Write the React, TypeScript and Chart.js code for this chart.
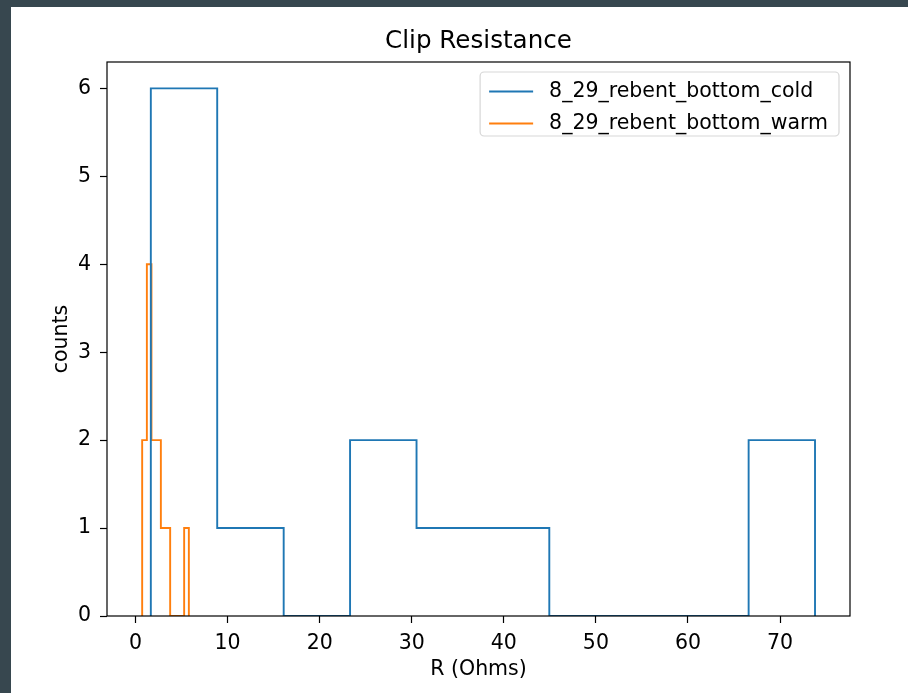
import React, { useEffect, useRef } from 'react';
import { Chart, registerables } from 'chart.js';

Chart.register(...registerables);

const TITLE = 'Clip Resistance';
const X_LABEL = 'R (Ohms)';
const Y_LABEL = 'counts';
const SERIES_NAMES = ['8_29_rebent_bottom_cold', '8_29_rebent_bottom_warm'];
const SERIES_COLORS = ['#1f77b4', '#ff7f0e'];

// histogram bin edges and counts (histtype = step)
const COLD_EDGES = [1.66, 8.87, 16.09, 23.3, 30.52, 37.73, 44.94, 52.16, 59.37, 66.59, 73.8];
const COLD_COUNTS = [6, 1, 0, 2, 1, 1, 0, 0, 0, 2];
const WARM_EDGES = [0.72, 1.23, 1.73, 2.24, 2.75, 3.26, 3.76, 4.27, 4.78, 5.28, 5.79];
const WARM_COUNTS = [2, 4, 2, 2, 1, 1, 0, 0, 0, 1];

const X_TICKS = [0, 10, 20, 30, 40, 50, 60, 70];
const Y_TICKS = [0, 1, 2, 3, 4, 5, 6];
const X_MIN = -3.1;
const X_MAX = 77.6;
const Y_MIN = 0;
const Y_MAX = 6.3;

const FONT = 'DejaVu Sans';
const FONT_SIZE = 20.5;
const TITLE_SIZE = 24.6;

function stepPoints(edges: number[], counts: number[]) {
  const pts: { x: number; y: number }[] = [{ x: edges[0], y: 0 }];
  counts.forEach((c, i) => {
    pts.push({ x: edges[i], y: c });
    pts.push({ x: edges[i + 1], y: c });
  });
  pts.push({ x: edges[edges.length - 1], y: 0 });
  return pts;
}

const framePlugin = {
  id: 'mplFrame',
  afterDatasetsDraw(chart: any) {
    const { ctx, chartArea } = chart;
    const { left, top, right, bottom } = chartArea;
    ctx.save();
    ctx.strokeStyle = '#000';
    ctx.lineWidth = 1.2;
    ctx.strokeRect(left, top, right - left, bottom - top);
    ctx.restore();

    // title, centred over the axes
    ctx.save();
    ctx.font = `${TITLE_SIZE}px "${FONT}"`;
    ctx.fillStyle = '#000';
    ctx.textAlign = 'center';
    ctx.textBaseline = 'alphabetic';
    ctx.fillText(TITLE, (left + right) / 2, top - 14);
    ctx.restore();

    // legend (matplotlib style, inside upper right)
    ctx.save();
    ctx.font = `${FONT_SIZE}px "${FONT}"`;
    const datasets = chart.data.datasets;
    let maxW = 0;
    datasets.forEach((d: any) => {
      maxW = Math.max(maxW, ctx.measureText(d.label).width);
    });
    const boxW = 69 + maxW + 11;
    const boxH = 64;
    const bx = right - 11 - boxW;
    const by = top + 10;
    const r = 4;
    ctx.beginPath();
    ctx.moveTo(bx + r, by);
    ctx.lineTo(bx + boxW - r, by);
    ctx.arcTo(bx + boxW, by, bx + boxW, by + r, r);
    ctx.lineTo(bx + boxW, by + boxH - r);
    ctx.arcTo(bx + boxW, by + boxH, bx + boxW - r, by + boxH, r);
    ctx.lineTo(bx + r, by + boxH);
    ctx.arcTo(bx, by + boxH, bx, by + boxH - r, r);
    ctx.lineTo(bx, by + r);
    ctx.arcTo(bx, by, bx + r, by, r);
    ctx.closePath();
    ctx.fillStyle = 'rgba(255,255,255,0.8)';
    ctx.fill();
    ctx.strokeStyle = 'rgba(204,204,204,0.8)';
    ctx.lineWidth = 1.2;
    ctx.stroke();
    const rowYs = [19.5, 51.5];
    datasets.forEach((d: any, i: number) => {
      const y = by + rowYs[i];
      ctx.strokeStyle = d.borderColor;
      ctx.lineWidth = d.borderWidth;
      ctx.beginPath();
      ctx.moveTo(bx + 9, y);
      ctx.lineTo(bx + 53, y);
      ctx.stroke();
      ctx.fillStyle = '#000';
      ctx.textBaseline = 'middle';
      ctx.textAlign = 'left';
      ctx.fillText(d.label, bx + 69, y);
    });
    ctx.restore();
  },
};

export default function App() {
  const ref = useRef<HTMLCanvasElement | null>(null);

  useEffect(() => {
    if (!ref.current) return;
    const chart = new Chart(ref.current, {
      type: 'line',
      data: {
        datasets: [
          {
            label: SERIES_NAMES[0],
            data: stepPoints(COLD_EDGES, COLD_COUNTS),
            borderColor: SERIES_COLORS[0],
            borderWidth: 1.9,
            pointRadius: 0,
            tension: 0,
            fill: false,
          },
          {
            label: SERIES_NAMES[1],
            data: stepPoints(WARM_EDGES, WARM_COUNTS),
            borderColor: SERIES_COLORS[1],
            borderWidth: 1.9,
            pointRadius: 0,
            tension: 0,
            fill: false,
          },
        ],
      },
      options: {
        responsive: false,
        animation: false,
        layout: { padding: { left: 0, top: 55, right: 58, bottom: 0 } },
        plugins: {
          legend: { display: false },
          tooltip: { enabled: false },
          title: { display: false },
        },
        scales: {
          x: {
            type: 'linear',
            min: X_MIN,
            max: X_MAX,
            afterFit: (s: any) => {
              s.height = 77;
            },
            afterBuildTicks: (s: any) => {
              s.ticks = X_TICKS.map((v) => ({ value: v }));
            },
            grid: {
              drawOnChartArea: false,
              drawTicks: true,
              tickLength: 7,
              tickColor: '#000',
              tickWidth: 1.2,
            },
            border: { display: false },
            ticks: {
              color: '#000',
              padding: 8,
              maxRotation: 0,
              autoSkip: false,
              font: { family: FONT, size: FONT_SIZE },
            },
            title: {
              display: true,
              text: X_LABEL,
              color: '#000',
              font: { family: FONT, size: FONT_SIZE },
              padding: { top: 0, bottom: 11 },
            },
          },
          y: {
            type: 'linear',
            min: Y_MIN,
            max: Y_MAX,
            afterFit: (s: any) => {
              s.width = 96;
            },
            afterBuildTicks: (s: any) => {
              s.ticks = Y_TICKS.map((v) => ({ value: v }));
            },
            grid: {
              drawOnChartArea: false,
              drawTicks: true,
              tickLength: 7,
              tickColor: '#000',
              tickWidth: 1.2,
            },
            border: { display: false },
            ticks: {
              color: '#000',
              padding: 9,
              autoSkip: false,
              font: { family: FONT, size: FONT_SIZE },
            },
            title: {
              display: true,
              text: Y_LABEL,
              color: '#000',
              font: { family: FONT, size: FONT_SIZE },
              padding: { top: 38.5, bottom: 0 },
            },
          },
        },
      },
      plugins: [framePlugin],
    } as any);
    return () => chart.destroy();
  }, []);

  return (
    <div
      style={{
        position: 'fixed',
        left: 0,
        top: 0,
        width: 908,
        height: 693,
        background: '#37474f',
      }}
    >
      <div
        style={{
          position: 'absolute',
          left: 11,
          top: 7,
          width: 897,
          height: 686,
          background: '#ffffff',
        }}
      >
        <canvas ref={ref} width={897} height={686} style={{ display: 'block', width: 897, height: 686 }} />
      </div>
    </div>
  );
}
